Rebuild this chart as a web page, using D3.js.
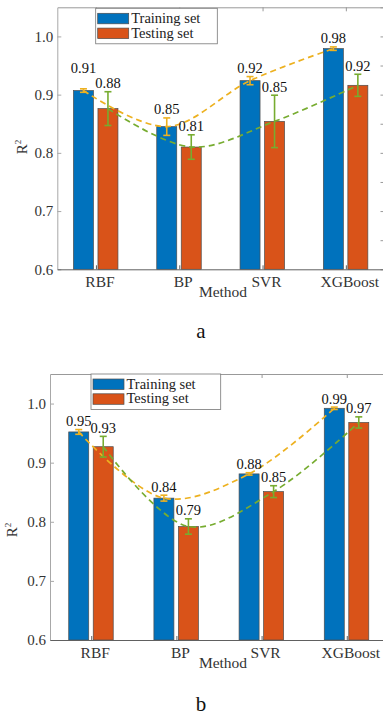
<!DOCTYPE html>
<html>
<head>
<meta charset="utf-8">
<script src="https://cdn.jsdelivr.net/npm/d3@7"></script>
<style>
  body { margin: 0; background: #fff; }
  svg { display: block; font-family: "Liberation Serif", "Times New Roman", serif; }
</style>
</head>
<body>
<svg id="chart" width="383" height="715"></svg>
<script>
// categories and series
const methods = ['RBF', 'BP', 'SVR', 'XGBoost'];
const seriesNames = ['Training set', 'Testing set'];
const yTicks = [0.6, 0.7, 0.8, 0.9, 1.0];
const yDomain = [0.6, 1.05];

// panel a
const trainA = [0.907, 0.845, 0.924, 0.979];
const trainErrA = [0.003, 0.015, 0.007, 0.003];
const testA = [0.876, 0.810, 0.854, 0.916];
const testErrA = [0.029, 0.021, 0.045, 0.019];
const trainLblA = ['0.91', '0.85', '0.92', '0.98'];
const testLblA = ['0.88', '0.81', '0.85', '0.92'];

// panel b
const trainB = [0.952, 0.840, 0.881, 0.992];
const trainErrB = [0.004, 0.005, 0.002, 0.002];
const testB = [0.927, 0.792, 0.851, 0.968];
const testErrB = [0.0175, 0.013, 0.010, 0.0095];
const trainLblB = ['0.95', '0.84', '0.88', '0.99'];
const testLblB = ['0.93', '0.79', '0.85', '0.97'];

const barColors = ['#0072BD', '#D95319'];
const lineColors = ['#EDB120', '#77AC30'];

const svg = d3.select('#chart');

function drawPanel(p) {
  const g = svg.append('g');

  const x = d3.scalePoint().domain(methods).range([p.left, p.right]).padding(p.pad);
  const y = d3.scaleLinear().domain(yDomain).range([p.bottom, p.top]);
  const xs = d3.scaleBand().domain(seriesNames).range([-22.5, 22]).paddingInner(0.184);
  const bw = xs.bandwidth();

  const series = [
    { name: seriesNames[0], vals: p.train, errs: p.trainErr, lbls: p.trainLbl },
    { name: seriesNames[1], vals: p.test, errs: p.testErr, lbls: p.testLbl }
  ];
  const cx = (s, i) => x(methods[i]) + xs(s.name) + bw / 2;

  // bars
  series.forEach((s, si) => {
    g.selectAll(null)
      .data(s.vals)
      .enter()
      .append('rect')
      .attr('x', (d, i) => x(methods[i]) + xs(s.name))
      .attr('y', d => y(d))
      .attr('width', bw)
      .attr('height', d => y(yDomain[0]) - y(d))
      .attr('fill', barColors[si])
      .attr('stroke', '#4d4d4d')
      .attr('stroke-width', 0.7);
  });

  // axes
  const styleAxis = (sel, col, fs) => {
    sel.attr('font-family', null).attr('font-size', fs || 15);
    sel.selectAll('path').attr('stroke', col);
    sel.selectAll('line').attr('stroke', col);
    sel.selectAll('text').attr('fill', '#333');
  };
  g.append('g')
    .attr('transform', `translate(0,${p.top})`)
    .call(d3.axisTop(x).tickSize(-4).tickSizeOuter(0).tickFormat(''))
    .call(sel => styleAxis(sel, '#999'));
  g.append('g')
    .attr('transform', `translate(${p.right},0)`)
    .call(d3.axisRight(y).tickValues(d3.range(0.6, 1.051, 0.05)).tickSize(-4).tickSizeOuter(0).tickFormat(''))
    .call(sel => styleAxis(sel, '#999'));
  g.append('g')
    .attr('transform', `translate(${p.left},0)`)
    .call(d3.axisLeft(y).tickValues(yTicks).tickSize(-4).tickSizeOuter(0).tickPadding(4).tickFormat(d3.format('.1f')))
    .call(sel => styleAxis(sel, '#a8a8a8'));
  g.append('g')
    .attr('transform', `translate(0,${p.bottom})`)
    .call(d3.axisBottom(x).tickSize(-4).tickSizeOuter(0).tickPadding(6.5))
    .call(sel => styleAxis(sel, '#606060', 15.5))
    .selectAll('text').attr('dx', 3.5);

  // dashed trend curves through the means
  const line = d3.line().curve(d3.curveCatmullRom.alpha(0.5));
  series.forEach((s, si) => {
    g.append('path')
      .attr('d', line(s.vals.map((v, i) => [cx(s, i), y(v)])))
      .attr('fill', 'none')
      .attr('stroke', lineColors[si])
      .attr('stroke-width', 1.7)
      .attr('stroke-dasharray', '6,4');
  });

  // error bars
  series.forEach((s, si) => {
    const eg = g.append('g').attr('stroke', lineColors[si]).attr('stroke-width', 1.6);
    s.vals.forEach((v, i) => {
      const c = cx(s, i), e = s.errs[i];
      eg.append('line').attr('x1', c).attr('x2', c).attr('y1', y(v - e)).attr('y2', y(v + e));
      eg.append('line').attr('x1', c - 3.5).attr('x2', c + 3.5).attr('y1', y(v - e)).attr('y2', y(v - e));
      eg.append('line').attr('x1', c - 3.5).attr('x2', c + 3.5).attr('y1', y(v + e)).attr('y2', y(v + e));
    });
  });

  // value labels above the error bars
  methods.forEach((m, i) => {
    const tops = series.map(s => y(s.vals[i] + s.errs[i]) - 3.5);
    if (Math.abs(tops[0] - tops[1]) < 5) tops[0] -= 12;
    series.forEach((s, si) => {
      g.append('text')
        .attr('x', cx(s, i))
        .attr('y', tops[si])
        .attr('text-anchor', 'middle')
        .attr('font-size', 14.5)
        .attr('fill', '#111')
        .text(s.lbls[i]);
    });
  });

  // legend
  const lg = g.append('g').attr('transform', `translate(${p.left + p.legX},${p.top + p.legY})`);
  lg.append('rect')
    .attr('width', p.legW).attr('height', 35.5)
    .attr('fill', '#fff').attr('stroke', '#777').attr('stroke-width', 0.8);
  seriesNames.forEach((n, si) => {
    lg.append('rect')
      .attr('x', 2).attr('y', 5 + si * 14.8)
      .attr('width', 31).attr('height', 10.5)
      .attr('fill', barColors[si]).attr('stroke', '#4d4d4d').attr('stroke-width', 0.7);
    lg.append('text')
      .attr('x', 35.5).attr('y', 14.6 + si * 14.8)
      .attr('font-size', 14.5).attr('fill', '#222')
      .text(n);
  });

  // axis titles
  g.append('text')
    .attr('x', 223).attr('y', p.bottom + 27.8)
    .attr('text-anchor', 'middle').attr('font-size', 15.5).attr('fill', '#333')
    .text('Method');
  const yl = g.append('text')
    .attr('transform', `translate(${p.yLabX},${p.yLabY}) rotate(-90)`)
    .attr('text-anchor', 'middle').attr('font-size', 15).attr('fill', '#333');
  yl.append('tspan').text('R');
  yl.append('tspan').attr('font-size', 9).attr('dy', -6).text('2');

  // panel letter
  g.append('text')
    .attr('x', 201).attr('y', p.letterY)
    .attr('text-anchor', 'middle').attr('font-size', 21).attr('fill', '#111')
    .text(p.letter);
}

drawPanel({
  left: 57.3, right: 384.5, top: 7.3, bottom: 269.3, pad: 0.464,
  train: trainA, trainErr: trainErrA, test: testA, testErr: testErrA,
  trainLbl: trainLblA, testLbl: testLblA,
  legX: 38.4, legY: 1, legW: 121.6, yLabX: 27, yLabY: 147,
  letter: 'a', letterY: 338
});

drawPanel({
  left: 50, right: 388, top: 374, bottom: 640, pad: 0.484,
  train: trainB, trainErr: trainErrB, test: testB, testErr: testErrB,
  trainLbl: trainLblB, testLbl: testLblB,
  legX: 41, legY: 0, legW: 129.7, yLabX: 17, yLabY: 530,
  letter: 'b', letterY: 711
});
</script>
</body>
</html>
